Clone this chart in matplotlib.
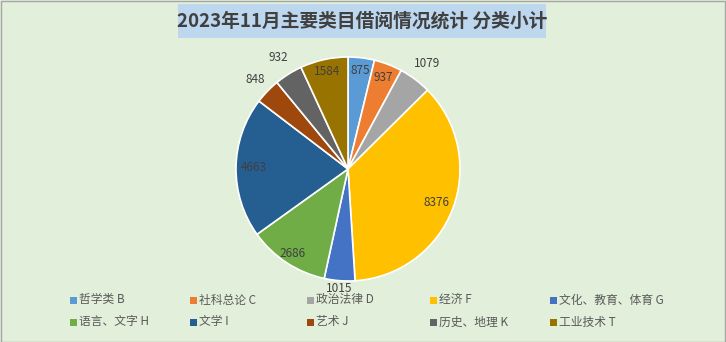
import matplotlib

matplotlib.use("Agg")

import numpy as np
import matplotlib.pyplot as plt
from matplotlib.patches import Rectangle

plt.rcParams["font.family"] = ["Noto Sans CJK SC", "DejaVu Sans"]

TITLE = "2023年11月主要类目借阅情况统计 分类小计"
categories = [
    "哲学类 B", "社科总论 C", "政治法律 D", "经济 F", "文化、教育、体育 G",
    "语言、文字 H", "文学 I", "艺术 J", "历史、地理 K", "工业技术 T",
]
counts = [875, 937, 1079, 8376, 1015, 2686, 4663, 848, 932, 1584]

colors = ["#5B9BD5", "#ED7D31", "#A5A5A5", "#FFC000", "#4472C4",
          "#70AD47", "#255E91", "#9E480E", "#636363", "#997300"]
# radial position of each value label, as a fraction of the radius
label_radius = [0.89, 0.88, 1.18, 0.85, 1.07, 0.90, 0.84, 1.15, 1.17, 0.89]

W, H = 726, 342
fig = plt.figure(figsize=(W / 100, H / 100), dpi=100)
fig.patch.set_facecolor("#E2EFDA")
fig.patches.append(Rectangle((0.5 / W, 0.5 / H), 1 - 1.5 / W, 1 - 1.5 / H,
                             transform=fig.transFigure, fill=False,
                             edgecolor="#A6A6A6", linewidth=1))

# title on a light blue band
fig.patches.append(Rectangle((178 / W, 1 - 38 / H), 368 / W, 34 / H,
                             transform=fig.transFigure, facecolor="#BDD7EE",
                             edgecolor="none"))
fig.text(362 / W, 1 - 21 / H, TITLE, ha="center", va="center",
         fontsize=13.5, fontweight="bold", color="#404040")

cx, cy, r = 348, 169, 112
ax = fig.add_axes([(cx - r) / W, 1 - (cy + r) / H, 2 * r / W, 2 * r / H])

wedges, _ = ax.pie(counts, colors=colors, startangle=90, counterclock=False,
                   radius=1, wedgeprops=dict(edgecolor="white", linewidth=1.2))
ax.set_xlim(-1, 1)
ax.set_ylim(-1, 1)
ax.set_aspect("equal")
ax.axis("off")

for w, val, rf in zip(wedges, counts, label_radius):
    mid = np.deg2rad((w.theta1 + w.theta2) / 2)
    ax.text(rf * np.cos(mid), rf * np.sin(mid), str(val), ha="center",
            va="center", fontsize=8.5, color="#404040", clip_on=False)

# legend, two rows of five
col_x = [70, 190, 307, 430, 550]
row_y = [300, 322]
for i, (name, col) in enumerate(zip(categories, colors)):
    x = col_x[i % 5]
    y = row_y[i // 5]
    fig.patches.append(Rectangle((x / W, 1 - (y + 3.5) / H), 7 / W, 7 / H,
                                 transform=fig.transFigure, facecolor=col,
                                 edgecolor="none"))
    fig.text((x + 9) / W, 1 - y / H, name, ha="left", va="center",
             fontsize=8.5, color="#595959")

fig.savefig("out.png", dpi=100, facecolor=fig.get_facecolor())
